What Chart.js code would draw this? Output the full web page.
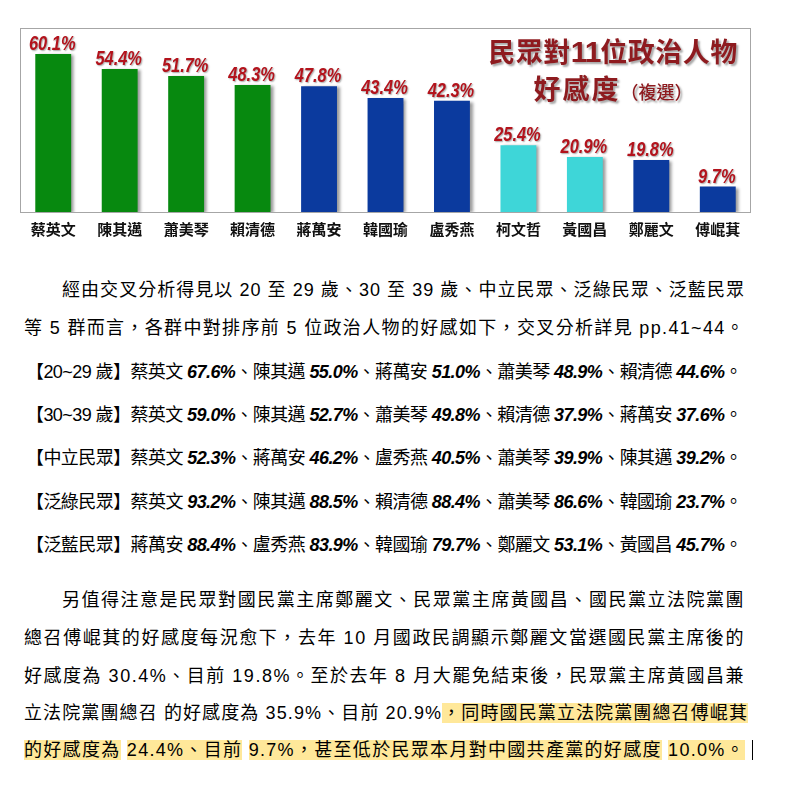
<!DOCTYPE html>
<html lang="zh-Hant">
<head>
<meta charset="utf-8">
<script src="https://cdn.jsdelivr.net/npm/chart.js@4.4.1/dist/chart.umd.min.js"></script>
<style>
  html, body { margin: 0; padding: 0; background: #fff; }
  body { width: 793px; height: 796px; position: relative; overflow: hidden;
         font-family: "Liberation Sans", "Noto Sans CJK TC", sans-serif; color: #000; }
  #chartBox { position: absolute; left: 0; top: 0; width: 793px; height: 248px; }
  #title { position: absolute; left: 468px; top: 33px; width: 290px; text-align: center;
           color: #8e1b1f; font-family: "Noto Sans CJK TC", sans-serif; font-weight: 700;
           text-shadow: 2px 2px 2px rgba(0,0,0,0.35); line-height: 36px; }
  #title .l1 { font-size: 27px; letter-spacing: 0.5px; }
  #title .l1 b { font-family: "Liberation Sans", sans-serif; font-size: 30px; letter-spacing: -1px; }
  #title .l2 { font-size: 27px; letter-spacing: 2px; }
  #title .l2 small { font-size: 18px; letter-spacing: 0; font-weight: 500; }
  .ln { position: absolute; height: 26px; line-height: 26px; white-space: nowrap; font-size: 18px; }
  .ln b { font-family: "Liberation Sans Narrow", "Liberation Sans", sans-serif; font-style: italic; font-weight: 700; }
  .hl { background: #ffe89a; }
  #cursor { position: absolute; left: 752px; top: 740px; width: 1px; height: 20px; background: #000; }
</style>
</head>
<body>
<div id="chartBox"><canvas id="favorChart"></canvas></div>
<div id="title"><div class="l1">民眾對<b>11</b>位政治人物</div><div class="l2">好感度<small>（複選）</small></div></div>

<div class="ln" data-l="62" data-r="745" data-y="290">經由交叉分析得見以 20 至 29 歲、30 至 39 歲、中立民眾、泛綠民眾、泛藍民眾</div>
<div class="ln" data-l="24" data-r="745" data-y="328">等 5 群而言，各群中對排序前 5 位政治人物的好感如下，交叉分析詳見 pp.41~44。</div>
<div class="ln" data-l="26" data-r="742" data-y="372">【20~29 歲】蔡英文 <b>67.6%</b>、陳其邁 <b>55.0%</b>、蔣萬安 <b>51.0%</b>、蕭美琴 <b>48.9%</b>、賴清德 <b>44.6%</b>。</div>
<div class="ln" data-l="26" data-r="742" data-y="415">【30~39 歲】蔡英文 <b>59.0%</b>、陳其邁 <b>52.7%</b>、蕭美琴 <b>49.8%</b>、賴清德 <b>37.9%</b>、蔣萬安 <b>37.6%</b>。</div>
<div class="ln" data-l="26" data-r="742" data-y="458">【中立民眾】蔡英文 <b>52.3%</b>、蔣萬安 <b>46.2%</b>、盧秀燕 <b>40.5%</b>、蕭美琴 <b>39.9%</b>、陳其邁 <b>39.2%</b>。</div>
<div class="ln" data-l="26" data-r="742" data-y="502">【泛綠民眾】蔡英文 <b>93.2%</b>、陳其邁 <b>88.5%</b>、賴清德 <b>88.4%</b>、蕭美琴 <b>86.6%</b>、韓國瑜 <b>23.7%</b>。</div>
<div class="ln" data-l="26" data-r="742" data-y="545">【泛藍民眾】蔣萬安 <b>88.4%</b>、盧秀燕 <b>83.9%</b>、韓國瑜 <b>79.7%</b>、鄭麗文 <b>53.1%</b>、黃國昌 <b>45.7%</b>。</div>

<div class="ln" data-l="62" data-r="745" data-y="600">另值得注意是民眾對國民黨主席鄭麗文、民眾黨主席黃國昌、國民黨立法院黨團</div>
<div class="ln" data-l="24" data-r="745" data-y="638">總召傅崐萁的好感度每況愈下，去年 10 月國政民調顯示鄭麗文當選國民黨主席後的</div>
<div class="ln" data-l="24" data-r="745" data-y="676">好感度為 30.4%、目前 19.8%。至於去年 8 月大罷免結束後，民眾黨主席黃國昌兼</div>
<div class="ln" data-l="24" data-r="748" data-y="713">立法院黨團總召 的好感度為 35.9%、目前 20.9%<span class="hl">，同時國民黨立法院黨團總召傅崐萁</span></div>
<div class="ln" data-l="24" data-r="745" data-y="750"><span class="hl">的好感度為</span> <span class="hl">24.4%、目前</span> <span class="hl">9.7%，甚至低於民眾本月對中國共產黨的好感度</span> <span class="hl">10.0%。</span></div>
<div id="cursor"></div>

<script>
// 民眾對 11 位政治人物好感度（複選）
const names = ['蔡英文', '陳其邁', '蕭美琴', '賴清德', '蔣萬安', '韓國瑜', '盧秀燕', '柯文哲', '黃國昌', '鄭麗文', '傅崐萁'];
const favor = [60.1, 54.4, 51.7, 48.3, 47.8, 43.4, 42.3, 25.4, 20.9, 19.8, 9.7];
const party = ['DPP', 'DPP', 'DPP', 'DPP', 'KMT', 'KMT', 'KMT', 'TPP', 'TPP', 'KMT', 'KMT'];
const yMax = 70;

const partyColor = { DPP: '#07890f', KMT: '#0b3a9e', TPP: '#3ed6d8' };

// fit each text line to its width
document.querySelectorAll('.ln').forEach(el => {
    const l = +el.dataset.l, r = +el.dataset.r, y = +el.dataset.y;
    el.style.left = l + 'px';
    el.style.top = (y - 13) + 'px';
    const w = el.getBoundingClientRect().width;
    const n = el.textContent.length;
    el.style.letterSpacing = ((r - l - w) / n) + 'px';
});

const boxPlugin = {
    id: 'box',
    beforeDatasetsDraw(chart) {
        const { ctx, chartArea: a } = chart;
        ctx.save();
        ctx.strokeStyle = '#a6a6a6';
        ctx.lineWidth = 1;
        ctx.strokeRect(a.left + 0.5, a.top + 0.5, a.right - a.left - 1, a.bottom - a.top);
        ctx.restore();
        // bar shadow
        ctx.save();
        ctx.shadowColor = 'rgba(0,0,0,0.4)';
        ctx.shadowOffsetX = 3;
        ctx.shadowOffsetY = 1;
        ctx.shadowBlur = 3;
    },
    afterDatasetsDraw(chart) {
        const ctx = chart.ctx;
        ctx.restore();
        const meta = chart.getDatasetMeta(0);
        ctx.save();
        ctx.font = 'italic bold 20px "Liberation Sans", Arial, sans-serif';
        ctx.fillStyle = '#b3131c';
        ctx.textAlign = 'center';
        ctx.textBaseline = 'alphabetic';
        ctx.shadowColor = 'rgba(0,0,0,0.35)';
        ctx.shadowOffsetX = 1;
        ctx.shadowOffsetY = 1;
        ctx.shadowBlur = 1.5;
        meta.data.forEach((bar, i) => {
            ctx.save();
            ctx.translate(bar.x - 1, bar.y - 4);
            ctx.scale(0.82, 1);
            ctx.fillText(favor[i].toFixed(1) + '%', 0, 0);
            ctx.restore();
        });
        ctx.restore();
    }
};

new Chart(document.getElementById('favorChart'), {
    type: 'bar',
    data: {
        labels: names,
        datasets: [{
            data: favor,
            backgroundColor: party.map(p => partyColor[p]),
            borderWidth: 0,
            categoryPercentage: 1,
            barPercentage: 0.54
        }]
    },
    options: {
        responsive: true,
        maintainAspectRatio: false,
        animation: false,
        layout: { padding: { left: 20, right: 42, top: 28, bottom: 10 } },
        scales: {
            y: { display: false, min: 0, max: yMax },
            x: {
                grid: { display: false },
                border: { display: false },
                ticks: {
                    color: '#111',
                    padding: 0,
                    font: { family: '"Noto Sans CJK TC", sans-serif', size: 15, weight: 'bold' }
                }
            }
        },
        plugins: {
            legend: { display: false },
            tooltip: { enabled: false }
        }
    },
    plugins: [boxPlugin]
});
</script>
</body>
</html>
